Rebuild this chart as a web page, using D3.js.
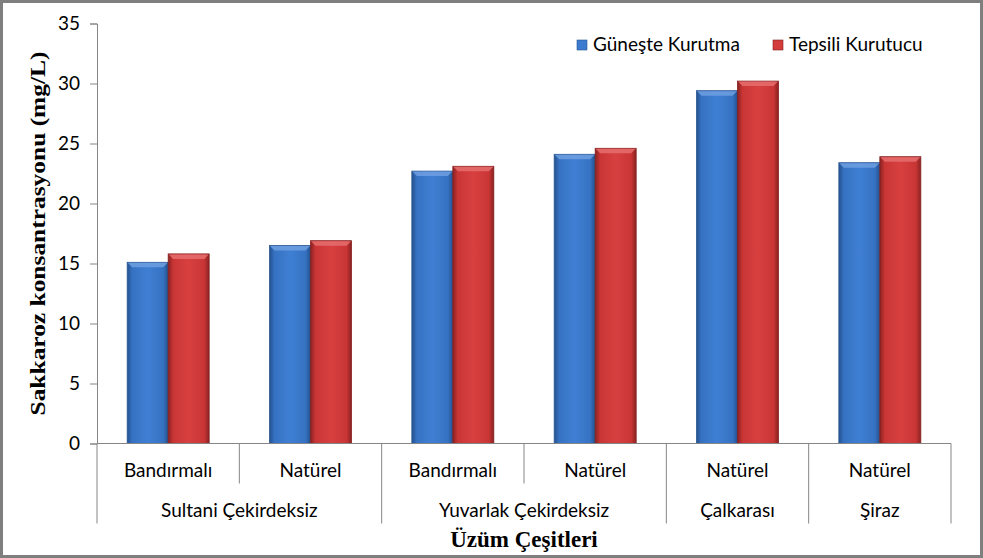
<!DOCTYPE html>
<html>
<head>
<meta charset="utf-8">
<script src="https://cdn.jsdelivr.net/npm/d3@7"></script>
<style>
  html, body { margin: 0; padding: 0; background: #fff; }
  svg { display: block; }
</style>
</head>
<body>
<svg width="983" height="558"></svg>
<script>
// data
var varieties = ["Sultani Çekirdeksiz", "Sultani Çekirdeksiz", "Yuvarlak Çekirdeksiz", "Yuvarlak Çekirdeksiz", "Çalkarası", "Şiraz"];
var types = ["Bandırmalı", "Natürel", "Bandırmalı", "Natürel", "Natürel", "Natürel"];
var series = ["Güneşte Kurutma", "Tepsili Kurutucu"];
var gunes = [15.1, 16.5, 22.7, 24.1, 29.4, 23.4];
var tepsili = [15.8, 16.9, 23.1, 24.6, 30.2, 23.9];
var yTicks = [0, 5, 10, 15, 20, 25, 30, 35];

var svg = d3.select("svg"),
    width = +svg.attr("width"),
    height = +svg.attr("height");

var margin = {left: 97, right: 32, top: 23.5, bottom: 114.5};
var x0 = margin.left, x1 = width - margin.right;
var yTop = margin.top, yBot = height - margin.bottom;

var keys = d3.range(types.length);
var x = d3.scaleBand().domain(keys).range([x0, x1]).paddingInner(0).paddingOuter(0);
var xs = d3.scaleBand().domain([0, 1]).range([0, 82]);
var y = d3.scaleLinear().domain([0, 35]).range([yBot, yTop]);

var defs = svg.append("defs");
function grad(id, edge, mid, light) {
  var g = defs.append("linearGradient").attr("id", id).attr("x1", "0").attr("x2", "1").attr("y1", "0").attr("y2", "0");
  g.append("stop").attr("offset", "0").attr("stop-color", edge);
  g.append("stop").attr("offset", "0.12").attr("stop-color", mid);
  g.append("stop").attr("offset", "0.5").attr("stop-color", light);
  g.append("stop").attr("offset", "0.88").attr("stop-color", mid);
  g.append("stop").attr("offset", "1").attr("stop-color", edge);
}
grad("gBlue", "#24518f", "#3672c2", "#3f7fd3");
grad("gRed", "#8a2222", "#c93535", "#d84040");
var colors = [{fill: "url(#gBlue)", top: "#6f9fe0", stroke: "#2a5690", sw: "#3c7bd0"},
              {fill: "url(#gRed)", top: "#e66e6e", stroke: "#842020", sw: "#d43c3c"}];

// frame
svg.append("rect").attr("x", 1.5).attr("y", 1.5).attr("width", width - 3).attr("height", height - 3)
  .attr("fill", "#fff").attr("stroke", "#7f7f7f").attr("stroke-width", 3);

var font = "Lato, 'Open Sans', sans-serif";

// y axis
var yAxis = svg.append("g").attr("transform", "translate(" + x0 + ",0)")
  .call(d3.axisLeft(y).tickValues(yTicks).tickSize(7).tickPadding(10));
yAxis.select(".domain").attr("stroke", "#868686");
yAxis.selectAll(".tick line").attr("stroke", "#868686");
yAxis.selectAll("text").attr("font-family", font).attr("font-size", 19).attr("fill", "#000");

// bars
var groups = svg.append("g").selectAll("g").data(keys).enter().append("g")
  .attr("transform", function(d) { return "translate(" + (x(d) + (x.bandwidth() - 82) / 2) + ",0)"; });

groups.each(function(d) {
  var g = d3.select(this);
  [gunes[d], tepsili[d]].forEach(function(v, s) {
    var bx = xs(s), bw = xs.bandwidth(), by = y(v), bh = yBot - by, c = colors[s];
    g.append("rect").attr("x", bx).attr("y", by).attr("width", bw).attr("height", bh)
      .attr("fill", c.fill).attr("stroke", c.stroke).attr("stroke-width", 0.8);
    // top bevel
    var bev = 5;
    g.append("polygon")
      .attr("points", [[bx + 0.5, by + 0.5], [bx + bw - 0.5, by + 0.5], [bx + bw - bev, by + bev], [bx + bev, by + bev]].map(function(p) { return p.join(","); }).join(" "))
      .attr("fill", c.top).attr("opacity", 0.85);
  });
});

// x axis line and separators
var axisCol = "#868686";
svg.append("line").attr("x1", x0).attr("x2", x1).attr("y1", yBot).attr("y2", yBot).attr("stroke", axisCol);
var seps = d3.range(types.length + 1);
svg.append("g").selectAll("line").data(seps).enter().append("line")
  .attr("x1", function(i) { return i < types.length ? x(i) : x1; })
  .attr("x2", function(i) { return i < types.length ? x(i) : x1; })
  .attr("y1", yBot)
  .attr("y2", function(i) {
    var long = i === 0 || i === types.length || varieties[i] !== varieties[i - 1];
    return long ? yBot + 80 : yBot + 40;
  })
  .attr("stroke", axisCol);

svg.append("g").selectAll("text").data(keys).enter().append("text")
  .attr("x", function(d) { return x(d) + x.bandwidth() / 2; })
  .attr("y", yBot + 33)
  .attr("text-anchor", "middle").attr("font-family", font).attr("font-size", 19)
  .text(function(d) { return types[d]; });

// variety labels centered on their span
var varNames = [];
varieties.forEach(function(v, i) {
  if (!varNames.length || varNames[varNames.length - 1].name !== v) varNames.push({name: v, first: i, last: i});
  else varNames[varNames.length - 1].last = i;
});
svg.append("g").selectAll("text").data(varNames).enter().append("text")
  .attr("x", function(d) { return (x(d.first) + x(d.last) + x.bandwidth()) / 2; })
  .attr("y", yBot + 73)
  .attr("text-anchor", "middle").attr("font-family", font).attr("font-size", 19)
  .text(function(d) { return d.name; });

// axis titles
var serif = "'Liberation Serif', 'Times New Roman', serif";
svg.append("text").attr("x", (x0 + x1) / 2).attr("y", height - 11)
  .attr("text-anchor", "middle").attr("font-family", serif)
  .attr("font-weight", "bold").attr("font-size", 23).text("Üzüm Çeşitleri");
svg.append("text").attr("transform", "translate(45," + ((yTop + yBot) / 2) + ") rotate(-90)")
  .attr("text-anchor", "middle").attr("font-family", serif)
  .attr("font-weight", "bold").attr("font-size", 22)
  .attr("textLength", 364).attr("lengthAdjust", "spacingAndGlyphs")
  .text("Sakkaroz konsantrasyonu (mg/L)");

// legend
var legX = [577, 773];
var leg = svg.append("g").selectAll("g").data(series).enter().append("g")
  .attr("transform", function(d, i) { return "translate(" + legX[i] + ",40)"; });
leg.append("rect").attr("width", 10).attr("height", 10)
  .attr("fill", function(d, i) { return colors[i].sw; })
  .attr("stroke", function(d, i) { return colors[i].stroke; }).attr("stroke-width", 0.6);
leg.append("text").attr("x", 16).attr("y", 11).attr("font-family", font).attr("font-size", 19)
  .text(function(d) { return d; });
</script>
</body>
</html>
